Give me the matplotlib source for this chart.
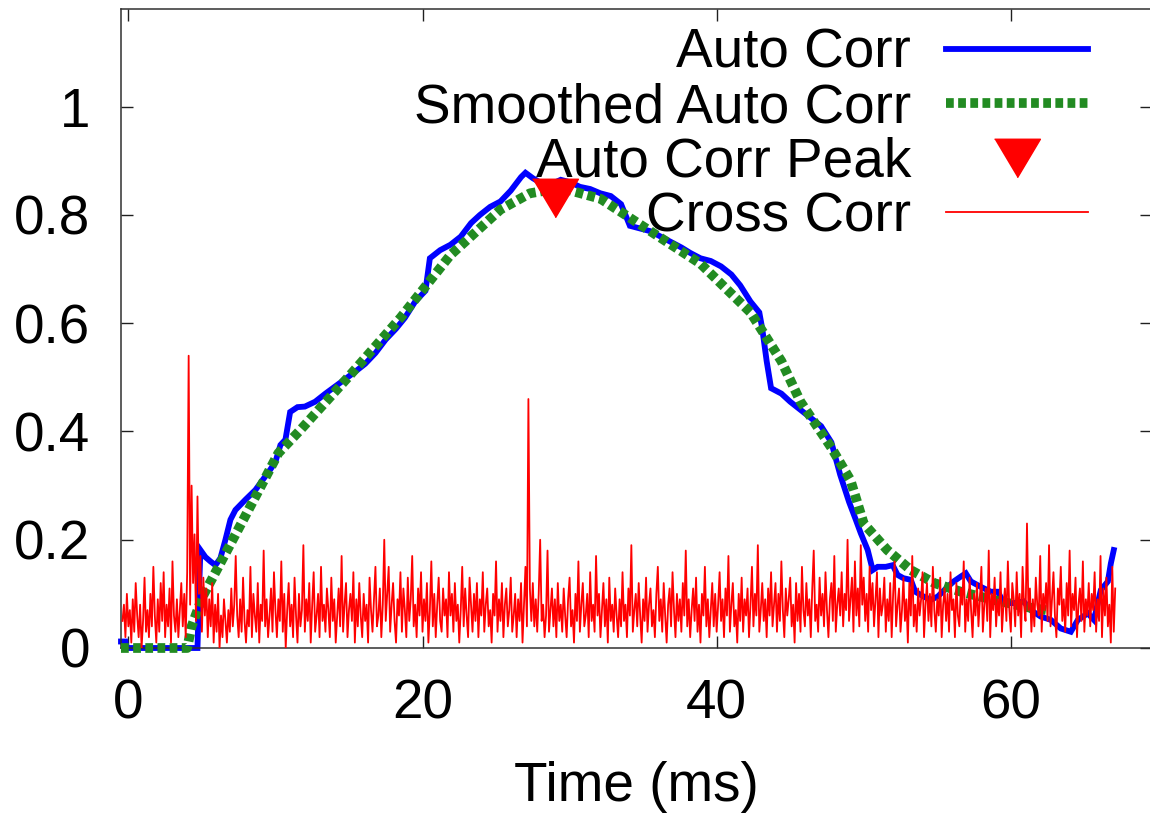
"""Auto correlation vs cross correlation of a pulse, gnuplot-like look
"""

import matplotlib
matplotlib.use('Agg')
import matplotlib.pyplot as plt
import numpy as np

plt.rcParams['font.family'] = ['Liberation Sans', 'DejaVu Sans']

# --- data ------------------------------------------------------------------
# auto correlation (ms, value)
auto_t = [-0.5, -0.2, -0.1, 4.7, 4.8, 4.9, 5.24, 5.58, 5.92, 6.26, 6.6, 6.94,
          7.28, 7.96, 8.64, 9.12, 9.66, 10.0, 10.34, 10.68, 11.0, 11.5, 12.0,
          12.7, 13.4, 14.4, 15.4, 16.1, 16.8, 17.5, 18.2, 18.8, 19.5, 20.2,
          20.5, 21.2, 21.9, 22.6, 23.3, 23.9, 24.6, 25.3, 26.0, 26.7, 27.0,
          27.5, 28.0, 28.6, 29.4, 30.1, 30.7, 31.4, 32.1, 32.8, 33.5, 34.1,
          34.8, 35.5, 36.2, 36.9, 37.6, 38.2, 38.9, 39.6, 40.3, 41.0, 41.6,
          42.3, 42.9, 43.1, 43.4, 43.7, 44.4, 45.0, 45.7, 46.4, 47.1, 47.8,
          48.4, 49.0, 49.46, 49.8, 50.27, 50.61, 50.95, 51.5, 51.97, 52.3,
          52.7, 53.2, 53.5, 54.08, 54.56, 55.03, 55.71, 56.12, 56.6, 56.94,
          57.28, 57.96, 58.64, 59.12, 59.52, 60.2, 60.88, 61.36, 62.04, 62.72,
          63.4, 64.08, 64.56, 65.24, 65.65, 66.12, 66.6, 66.8, 67.0]
auto_v = [0.012, 0.012, 0.0, 0.0, 0.10, 0.181, 0.168, 0.160, 0.153, 0.166,
          0.200, 0.237, 0.255, 0.274, 0.292, 0.310, 0.330, 0.344, 0.375, 0.385,
          0.436, 0.445, 0.446, 0.455, 0.470, 0.490, 0.510, 0.525, 0.545, 0.570,
          0.590, 0.610, 0.640, 0.660, 0.720, 0.735, 0.745, 0.760, 0.785, 0.800,
          0.815, 0.825, 0.845, 0.870, 0.878, 0.868, 0.860, 0.855, 0.865, 0.860,
          0.852, 0.848, 0.840, 0.835, 0.820, 0.780, 0.775, 0.770, 0.760, 0.750,
          0.740, 0.730, 0.720, 0.715, 0.705, 0.690, 0.670, 0.640, 0.620, 0.590,
          0.530, 0.480, 0.470, 0.455, 0.440, 0.425, 0.410, 0.380, 0.320, 0.270,
          0.237, 0.212, 0.181, 0.144, 0.150, 0.150, 0.153, 0.135, 0.129, 0.126,
          0.104, 0.095, 0.089, 0.095, 0.113, 0.123, 0.132, 0.138, 0.123, 0.113,
          0.104, 0.104, 0.083, 0.083, 0.086, 0.070, 0.058, 0.052, 0.036, 0.030,
          0.052, 0.064, 0.052, 0.107, 0.123, 0.156, 0.181]

# smoothed auto correlation (ms, value)
smooth_t = [-0.5, 4.0, 4.3, 5.03, 6.26, 8.3, 10.2, 11.7, 15.1, 18.5, 21.9,
            25.3, 27.3, 29.4, 32.1, 35.5, 38.9, 42.3, 44.4, 45.7, 47.8, 49.1,
            50.0, 51.6, 53.2, 54.8, 56.6, 58.8, 61.2, 62.4]
smooth_v = [0.0, 0.0, 0.04, 0.094, 0.157, 0.262, 0.360, 0.403, 0.505, 0.610,
            0.726, 0.810, 0.840, 0.850, 0.830, 0.770, 0.710, 0.620, 0.530,
            0.455, 0.370, 0.310, 0.230, 0.181, 0.144, 0.120, 0.104, 0.089,
            0.075, 0.070]

# detected peak of the smoothed curve
peak_t = [29.0]
peak_v = [0.832]

# cross correlation, sampled every 0.1 ms starting at -0.4 ms
cross_dt = 0.1
cross_t0 = -0.4
cross_v = [
    0.05, 0.08, 0.02, 0.10, 0.04, 0.07, 0.01, 0.09, 0.03, 0.12, 0.06, 0.02, 0.08, 0.00, 0.05, 0.13, 0.03, 0.07, 0.02, 0.10,
    0.04, 0.15, 0.06, 0.01, 0.09, 0.03, 0.12, 0.05, 0.14, 0.02, 0.08, 0.04, 0.11, 0.01, 0.16, 0.06, 0.03, 0.09, 0.02, 0.07,
    0.12, 0.04, 0.10, 0.02, 0.14, 0.54, 0.08, 0.30, 0.12, 0.21, 0.05, 0.28, 0.10, 0.17, 0.03, 0.13, 0.06, 0.11, 0.02, 0.09,
    0.04, 0.12, 0.01, 0.08, 0.03, 0.10, 0.00, 0.06, 0.02, 0.09, 0.05, 0.01, 0.07, 0.03, 0.11, 0.04, 0.08, 0.17, 0.06, 0.02,
    0.09, 0.03, 0.13, 0.05, 0.01, 0.07, 0.04, 0.15, 0.02, 0.10, 0.06, 0.03, 0.12, 0.01, 0.08, 0.05, 0.18, 0.04, 0.09, 0.02,
    0.06, 0.11, 0.03, 0.14, 0.07, 0.02, 0.09, 0.05, 0.16, 0.03, 0.10, 0.00, 0.07, 0.12, 0.04, 0.08, 0.02, 0.13, 0.06, 0.01,
    0.10, 0.04, 0.07, 0.19, 0.03, 0.09, 0.05, 0.12, 0.01, 0.08, 0.14, 0.03, 0.06, 0.10, 0.02, 0.15, 0.05, 0.08, 0.03, 0.11,
    0.07, 0.02, 0.13, 0.05, 0.09, 0.01, 0.06, 0.11, 0.04, 0.17, 0.03, 0.08, 0.12, 0.02, 0.07, 0.10, 0.05, 0.14, 0.01, 0.09,
    0.04, 0.12, 0.06, 0.02, 0.10, 0.05, 0.08, 0.01, 0.13, 0.07, 0.03, 0.09, 0.15, 0.04, 0.06, 0.11, 0.02, 0.08, 0.20, 0.05,
    0.10, 0.15, 0.03, 0.08, 0.12, 0.05, 0.01, 0.09, 0.06, 0.14, 0.03, 0.11, 0.07, 0.02, 0.13, 0.05, 0.09, 0.17, 0.04, 0.08,
    0.02, 0.11, 0.06, 0.14, 0.03, 0.09, 0.05, 0.12, 0.01, 0.07, 0.16, 0.04, 0.10, 0.02, 0.08, 0.13, 0.05, 0.03, 0.11, 0.06,
    0.09, 0.02, 0.14, 0.06, 0.10, 0.03, 0.12, 0.05, 0.08, 0.01, 0.07, 0.15, 0.04, 0.11, 0.06, 0.02, 0.13, 0.08, 0.03, 0.10,
    0.05, 0.12, 0.02, 0.09, 0.06, 0.14, 0.03, 0.08, 0.11, 0.04, 0.07, 0.01, 0.10, 0.06, 0.16, 0.03, 0.09, 0.05, 0.12, 0.02,
    0.08, 0.11, 0.04, 0.07, 0.13, 0.03, 0.06, 0.10, 0.02, 0.09, 0.05, 0.12, 0.01, 0.08, 0.15, 0.04, 0.46, 0.11, 0.05, 0.12,
    0.04, 0.09, 0.03, 0.10, 0.20, 0.05, 0.08, 0.02, 0.06, 0.18, 0.03, 0.07, 0.11, 0.04, 0.09, 0.02, 0.12, 0.05, 0.08, 0.03,
    0.11, 0.06, 0.02, 0.09, 0.13, 0.04, 0.07, 0.01, 0.10, 0.05, 0.16, 0.03, 0.08, 0.12, 0.04, 0.06, 0.10, 0.02, 0.14, 0.05,
    0.08, 0.03, 0.17, 0.06, 0.10, 0.02, 0.07, 0.12, 0.04, 0.09, 0.01, 0.13, 0.05, 0.08, 0.03, 0.11, 0.06, 0.02, 0.09, 0.04,
    0.14, 0.05, 0.08, 0.02, 0.11, 0.06, 0.19, 0.03, 0.07, 0.10, 0.04, 0.12, 0.06, 0.01, 0.09, 0.05, 0.13, 0.03, 0.08, 0.11,
    0.04, 0.07, 0.02, 0.10, 0.15, 0.05, 0.09, 0.03, 0.12, 0.06, 0.01, 0.08, 0.11, 0.04, 0.14, 0.07, 0.02, 0.10, 0.05, 0.09,
    0.03, 0.12, 0.06, 0.18, 0.04, 0.09, 0.02, 0.07, 0.11, 0.05, 0.13, 0.03, 0.08, 0.01, 0.10, 0.06, 0.15, 0.04, 0.09, 0.02,
    0.07, 0.12, 0.04, 0.10, 0.03, 0.08, 0.14, 0.05, 0.09, 0.02, 0.11, 0.06, 0.17, 0.03, 0.08, 0.12, 0.04, 0.07, 0.01, 0.10,
    0.05, 0.13, 0.03, 0.09, 0.06, 0.11, 0.02, 0.08, 0.15, 0.04, 0.10, 0.06, 0.19, 0.03, 0.07, 0.12, 0.05, 0.09, 0.02, 0.11,
    0.06, 0.14, 0.04, 0.08, 0.12, 0.03, 0.10, 0.05, 0.16, 0.07, 0.02, 0.11, 0.06, 0.09, 0.13, 0.04, 0.08, 0.01, 0.12, 0.05,
    0.10, 0.03, 0.15, 0.07, 0.04, 0.12, 0.06, 0.09, 0.02, 0.11, 0.18, 0.05, 0.08, 0.03, 0.13, 0.06, 0.10, 0.04, 0.14, 0.07,
    0.02, 0.09, 0.12, 0.05, 0.17, 0.03, 0.08, 0.11, 0.06, 0.14, 0.04, 0.10, 0.07, 0.20, 0.05, 0.09, 0.13, 0.03, 0.16, 0.06,
    0.11, 0.04, 0.19, 0.08, 0.13, 0.05, 0.10, 0.03, 0.15, 0.07, 0.12, 0.04, 0.09, 0.14, 0.02, 0.11, 0.06, 0.08, 0.13, 0.03,
    0.09, 0.05, 0.12, 0.02, 0.10, 0.16, 0.04, 0.08, 0.11, 0.03, 0.07, 0.13, 0.05, 0.09, 0.01, 0.12, 0.06, 0.17, 0.04, 0.08,
    0.03, 0.11, 0.06, 0.09, 0.14, 0.02, 0.08, 0.12, 0.05, 0.10, 0.04, 0.15, 0.07, 0.03, 0.09, 0.06, 0.13, 0.02, 0.08, 0.11,
    0.05, 0.10, 0.03, 0.14, 0.07, 0.09, 0.02, 0.12, 0.06, 0.04, 0.11, 0.08, 0.16, 0.03, 0.09, 0.05, 0.13, 0.07, 0.02, 0.10,
    0.06, 0.12, 0.04, 0.09, 0.15, 0.03, 0.08, 0.11, 0.05, 0.18, 0.02, 0.10, 0.07, 0.13, 0.04, 0.09, 0.06, 0.14, 0.03, 0.08,
    0.11, 0.05, 0.16, 0.07, 0.03, 0.12, 0.09, 0.04, 0.14, 0.06, 0.10, 0.02, 0.15, 0.08, 0.05, 0.23, 0.07, 0.11, 0.03, 0.09,
    0.04, 0.13, 0.08, 0.06, 0.17, 0.03, 0.10, 0.07, 0.12, 0.05, 0.19, 0.04, 0.09, 0.14, 0.06, 0.02, 0.11, 0.08, 0.15, 0.05,
    0.09, 0.03, 0.12, 0.06, 0.18, 0.04, 0.10, 0.07, 0.13, 0.02, 0.08, 0.11, 0.05, 0.16, 0.03, 0.09, 0.06, 0.12, 0.04, 0.10,
    0.07, 0.14, 0.03, 0.09, 0.05, 0.17, 0.02, 0.11, 0.06, 0.13, 0.04, 0.08, 0.01, 0.15, 0.03, 0.11,
]
cross_t = cross_t0 + cross_dt * np.arange(len(cross_v))

x_ticks = [0, 20, 40, 60]
y_ticks = [0, 0.2, 0.4, 0.6, 0.8, 1]
y_tick_labels = ['0', '0.2', '0.4', '0.6', '0.8', '1']

FONT_SIZE = 39.5

fig = plt.figure(figsize=(11.5, 8.14), dpi=100)
# axes box placed in pixel terms of the 1150x814 canvas (right edge just off-canvas)
ax = fig.add_axes([121 / 1150, 1 - 648 / 814, (1152 - 121) / 1150, (648 - 9.3) / 814])

ax.plot(auto_t, auto_v, color='#0000ff', lw=4.2, label='Auto Corr',
        clip_on=False, zorder=2, solid_joinstyle='miter')
ax.plot(smooth_t, smooth_v, color='#228b22', lw=7, dashes=(0.8, 0.45),
        dash_capstyle='butt', label='Smoothed Auto Corr', clip_on=False, zorder=3)
# wide gnuplot style down triangle
tri = [(-1, 0.84), (1, 0.84), (0, -0.84)]
ax.plot(peak_t, peak_v, ls='none', marker=tri, ms=33, color='#ff0000',
        mec='#ff0000', label='Auto Corr Peak', zorder=4)
ax.plot(cross_t, cross_v, color='#ff0000', lw=1.3, label='Cross Corr', zorder=5)

ax.set_xlim(-0.5, 69.6)
ax.set_ylim(0, 1.18)
ax.set_xticks(x_ticks)
ax.set_yticks(y_ticks, y_tick_labels)
ax.tick_params(direction='in', length=8.6, width=1.0, top=True, right=True,
               labelsize=FONT_SIZE, color='#202020')
ax.tick_params(axis='x', pad=22)
ax.tick_params(axis='y', pad=22)
for spine in ax.spines.values():
    spine.set_color('#303030')
    spine.set_linewidth(1.1)

ax.set_xlabel('Time (ms)', fontsize=FONT_SIZE, labelpad=22)

ax.legend(loc='upper right', bbox_to_anchor=(0.938, 0.971), markerfirst=False,
          frameon=False, fontsize=FONT_SIZE, handlelength=2.59,
          handletextpad=0.64, labelspacing=0.045, borderpad=0,
          borderaxespad=0, numpoints=1)

fig.savefig('out.png', dpi=100)
